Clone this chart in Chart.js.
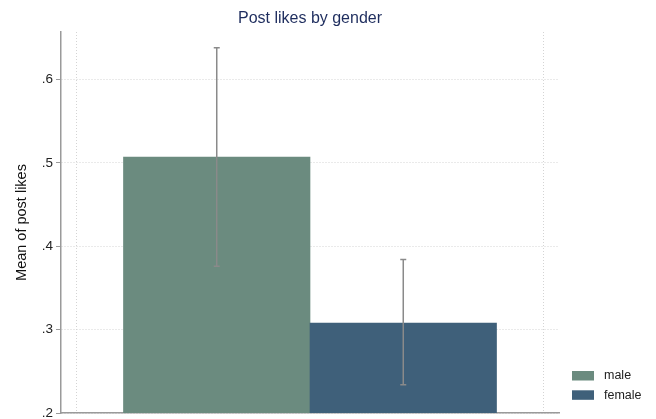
<!DOCTYPE html>
<html>
<head>
<meta charset="utf-8">
<script src="https://cdn.jsdelivr.net/npm/chart.js@4/dist/chart.umd.min.js"></script>
<style>
  html, body { margin: 0; padding: 0; background: #fff; }
  #wrap { width: 656px; height: 419px; position: relative; }
</style>
</head>
<body>
<div id="wrap"><canvas id="c"></canvas></div>
<script>
// ---- data ----
const categories = ['male', 'female'];
const means = [0.507, 0.308];
const ciLower = [0.376, 0.234];
const ciUpper = [0.638, 0.384];
const barColors = ['#6b8b7f', '#3f607a'];
const yTicks = [0.2, 0.3, 0.4, 0.5, 0.6];
const xGridTicks = [0.25, 2.75];
const titleText = 'Post likes by gender';
const yTitle = 'Mean of post likes';

const FONT = '"Liberation Sans", Arial, Helvetica, sans-serif';

const points = categories.map((c, i) => ({ x: i + 1, y: means[i] }));

const errorBarPlugin = {
  id: 'errorBars',
  afterDatasetsDraw(chart) {
    const { ctx, scales: { x, y } } = chart;
    ctx.save();
    ctx.strokeStyle = '#8a8a8a';
    ctx.lineWidth = 1.5;
    categories.forEach((c, i) => {
      const px = x.getPixelForValue(i + 1);
      const yl = y.getPixelForValue(ciLower[i]);
      const yu = y.getPixelForValue(ciUpper[i]);
      ctx.beginPath();
      ctx.moveTo(px, yl); ctx.lineTo(px, yu);
      ctx.moveTo(px - 3, yl); ctx.lineTo(px + 3, yl);
      ctx.moveTo(px - 3, yu); ctx.lineTo(px + 3, yu);
      ctx.stroke();
    });
    ctx.restore();
  }
};

const titleLegendPlugin = {
  id: 'titleLegend',
  afterDraw(chart) {
    const { ctx, chartArea } = chart;
    ctx.save();
    ctx.fillStyle = '#1e2d5e';
    ctx.font = '16px ' + FONT;
    ctx.textAlign = 'center';
    ctx.textBaseline = 'middle';
    ctx.fillText(titleText, (chartArea.left + chartArea.right) / 2, 19);
    ctx.font = '12.5px ' + FONT;
    ctx.textAlign = 'left';
    categories.forEach((c, i) => {
      const top = 371 + i * 19.3;
      ctx.fillStyle = barColors[i];
      ctx.fillRect(572, top, 22, 9.5);
      ctx.fillStyle = '#222';
      ctx.fillText(c, 604, top + 5);
    });
    ctx.restore();
  }
};

new Chart(document.getElementById('c'), {
  type: 'bar',
  data: {
    datasets: [{
      data: points,
      backgroundColor: barColors,
      borderWidth: 0,
      barPercentage: 1.0,
      categoryPercentage: 1.0
    }]
  },
  options: {
    responsive: true,
    maintainAspectRatio: false,
    animation: false,
    layout: { padding: { top: 32, right: 97, left: 0, bottom: 0 } },
    plugins: {
      legend: { display: false },
      title: { display: false },
      tooltip: { enabled: false }
    },
    scales: {
      x: {
        type: 'linear',
        offset: false,
        min: 0.165,
        max: 2.835,
        afterBuildTicks(scale) { scale.ticks = xGridTicks.map(v => ({ value: v })); },
        afterFit(scale) { scale.height = 6; },
        ticks: { display: false },
        grid: { color: '#d4d4d4', lineWidth: 1, drawTicks: false, offset: false },
        border: { display: true, color: '#9a9a9a', width: 1.5, dash: [1, 2] }
      },
      y: {
        type: 'linear',
        min: 0.2,
        max: 0.657,
        afterBuildTicks(scale) { scale.ticks = yTicks.map(v => ({ value: v })); },
        afterFit(scale) { scale.width = 61; },
        ticks: {
          color: '#222',
          font: { family: FONT, size: 13.5, lineHeight: 0.4 },
          padding: 3,
          callback: v => v.toFixed(1).replace(/^0/, '')
        },
        grid: {
          color: '#d4d4d4', lineWidth: 1, tickLength: 5,
          tickColor: '#9a9a9a', tickBorderDash: [], tickWidth: 1
        },
        border: { display: true, color: '#9a9a9a', width: 1.5, dash: [1, 2] },
        title: {
          display: true,
          text: yTitle,
          color: '#111',
          font: { family: FONT, size: 14.5 },
          padding: { top: 13, bottom: 0 }
        }
      }
    }
  },
  plugins: [errorBarPlugin, titleLegendPlugin]
});
</script>
</body>
</html>
